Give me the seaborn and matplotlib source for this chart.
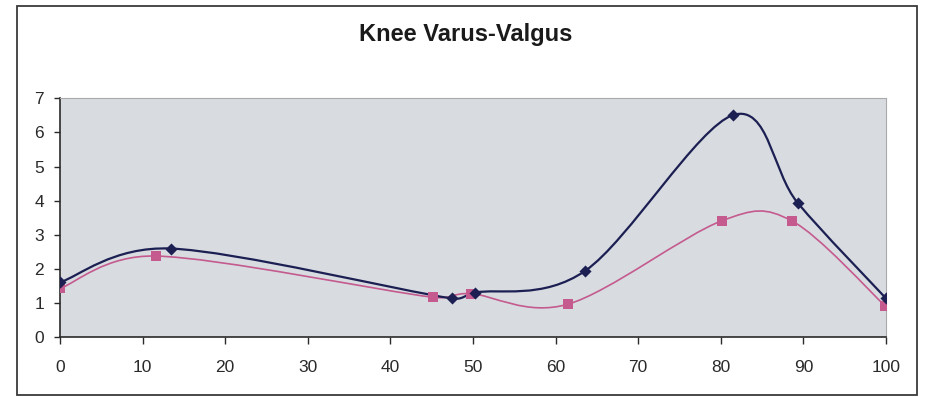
import numpy as np
import matplotlib
matplotlib.use("Agg")
import matplotlib.pyplot as plt
from matplotlib.path import Path
from matplotlib.patches import PathPatch, Rectangle
import seaborn as sns
import pandas as pd

# ---- data ----
title = "Knee Varus-Valgus"
navy_x = [0.0, 13.4, 47.4, 50.3, 63.6, 81.5, 89.3, 100.0]
navy_y = [1.61, 2.60, 1.14, 1.31, 1.95, 6.51, 3.94, 1.14]
pink_x = [0.0, 11.6, 45.2, 49.7, 61.5, 80.1, 88.6, 99.9]
pink_y = [1.43, 2.38, 1.17, 1.28, 0.97, 3.41, 3.41, 0.92]
x_ticks = [0, 10, 20, 30, 40, 50, 60, 70, 80, 90, 100]
y_ticks = [0, 1, 2, 3, 4, 5, 6, 7]

NAVY = "#1c1f52"
PINK = "#c45a8e"

sns.set_style("white")
plt.rcParams["font.family"] = ["Liberation Sans", "DejaVu Sans"]

W, H = 927, 397
fig = plt.figure(figsize=(W / 100, H / 100), dpi=100)
ax = fig.add_axes([60 / W, 1 - 337.3 / H, (886 - 60) / W, (337.3 - 98.3) / H])
ax.set_facecolor("#d8dce1")
ax.set_xlim(0, 100)
ax.set_ylim(0, 7)

# outer chart border
fig.patches.append(Rectangle((17 / W, 1 - 395 / H), 900 / W, 389 / H,
                             transform=fig.transFigure, fill=False,
                             edgecolor="#3a3a3a", linewidth=1.3, zorder=0))


def smooth_path(xs, ys):
    """Excel-style smoothed line: cubic Bezier through points (Catmull-Rom, limited)."""
    pts = ax.transData.transform(np.column_stack([xs, ys]))
    n = len(pts)
    verts = [pts[0]]
    codes = [Path.MOVETO]
    for i in range(n - 1):
        p0 = pts[max(i - 1, 0)]
        p1 = pts[i]
        p2 = pts[i + 1]
        p3 = pts[min(i + 2, n - 1)]
        d12 = np.linalg.norm(p2 - p1)
        d02 = np.linalg.norm(p2 - p0)
        d13 = np.linalg.norm(p3 - p1)
        f = 1 / 6 if d02 == 0 else min(1 / 6, 0.5 * d12 / d02)
        g = 1 / 6 if d13 == 0 else min(1 / 6, 0.5 * d12 / d13)
        c1 = p1 + f * (p2 - p0)
        c2 = p2 - g * (p3 - p1)
        verts += [c1, c2, p2]
        codes += [Path.CURVE4] * 3
    inv = ax.transData.inverted()
    return Path(inv.transform(np.array(verts)), codes)


ax.add_patch(PathPatch(smooth_path(pink_x, pink_y), fill=False,
                       edgecolor=PINK, linewidth=1.2, zorder=3))
ax.add_patch(PathPatch(smooth_path(navy_x, navy_y), fill=False,
                       edgecolor=NAVY, linewidth=1.6, zorder=4))

df_n = pd.DataFrame({"x": navy_x, "y": navy_y})
df_p = pd.DataFrame({"x": pink_x, "y": pink_y})
sns.scatterplot(data=df_p, x="x", y="y", ax=ax, marker="s", s=42,
                color=PINK, edgecolor=PINK, linewidth=0, zorder=5)
sns.scatterplot(data=df_n, x="x", y="y", ax=ax, marker="D", s=38,
                color=NAVY, edgecolor=NAVY, linewidth=0, zorder=6)

ax.set_xlabel("")
ax.set_ylabel("")
ax.set_xticks(x_ticks)
ax.set_yticks(y_ticks)
ax.tick_params(axis="x", direction="out", length=5, width=1, pad=11,
               labelsize=12.5, colors="#2a2a2a", bottom=True)
ax.tick_params(axis="y", direction="out", length=4.5, width=1, pad=7,
               labelsize=12.5, colors="#2a2a2a", left=True)

for s in ["left", "bottom"]:
    ax.spines[s].set_color("#2a2a2a")
    ax.spines[s].set_linewidth(1.2)
for s in ["top", "right"]:
    ax.spines[s].set_color("#aaaaaa")
    ax.spines[s].set_linewidth(0.8)

fig.text(466 / W, 1 - 35 / H, title, ha="center", va="center",
         fontsize=17, fontweight="bold", color="#1a1a1a")

fig.savefig("out.png", dpi=100, facecolor="white")
